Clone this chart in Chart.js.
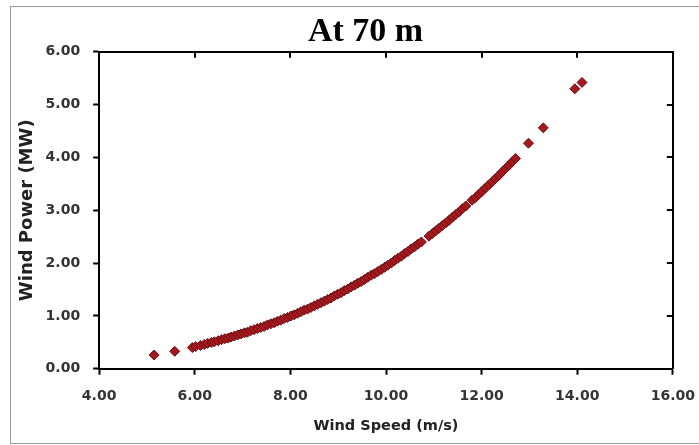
<!DOCTYPE html>
<html>
<head>
<meta charset="utf-8">
<script src="https://cdn.jsdelivr.net/npm/chart.js@4.4.1/dist/chart.umd.min.js"></script>
<style>
  html, body { margin: 0; padding: 0; background: #fff; }
  #kutu { position: relative; width: 699px; height: 445px; }
</style>
</head>
<body>
<div id="kutu"><canvas id="ruzgarChart" width="699" height="445"></canvas></div>
<script>
/* DATA */
var windSpeed = [5.15, 5.58, 5.95, 6.02,
  6.12, 6.20, 6.27, 6.35, 6.41, 6.49, 6.56, 6.63, 6.70, 6.76, 6.83, 6.90, 6.97,
  7.04, 7.10, 7.17, 7.24, 7.31, 7.38, 7.45, 7.52, 7.59, 7.66, 7.73, 7.80, 7.87, 7.94,
  8.01, 8.08, 8.15, 8.22, 8.29, 8.36, 8.43, 8.50, 8.57, 8.64, 8.71, 8.78, 8.85, 8.92, 8.99,
  9.06, 9.13, 9.20, 9.27, 9.34, 9.41, 9.48, 9.55, 9.62, 9.69, 9.76, 9.83, 9.90, 9.97,
  10.04, 10.11, 10.18, 10.25, 10.32, 10.39, 10.46, 10.53, 10.60, 10.67, 10.74,
  10.90, 10.97, 11.04, 11.11, 11.18, 11.25, 11.32, 11.39, 11.46, 11.53, 11.60, 11.67,
  11.80, 11.87, 11.94, 12.01, 12.08, 12.15, 12.22, 12.29, 12.36, 12.43, 12.50, 12.57, 12.64, 12.71,
  12.98, 13.29, 13.95, 14.10];
var windPower = [0.26, 0.33, 0.40, 0.42,
  0.44, 0.46, 0.48, 0.50, 0.51, 0.53, 0.55, 0.57, 0.58, 0.60, 0.62, 0.64, 0.66,
  0.68, 0.69, 0.72, 0.74, 0.76, 0.78, 0.80, 0.83, 0.85, 0.87, 0.90, 0.92, 0.95, 0.97,
  1.00, 1.02, 1.05, 1.08, 1.11, 1.13, 1.16, 1.19, 1.22, 1.25, 1.28, 1.31, 1.34, 1.38, 1.41,
  1.44, 1.48, 1.51, 1.55, 1.58, 1.62, 1.65, 1.69, 1.73, 1.77, 1.80, 1.84, 1.88, 1.92,
  1.96, 2.00, 2.05, 2.09, 2.13, 2.18, 2.22, 2.27, 2.31, 2.36, 2.40,
  2.51, 2.56, 2.61, 2.66, 2.71, 2.76, 2.81, 2.87, 2.92, 2.97, 3.03, 3.08,
  3.19, 3.24, 3.30, 3.36, 3.42, 3.48, 3.54, 3.60, 3.66, 3.73, 3.79, 3.85, 3.92, 3.98,
  4.27, 4.56, 5.30, 5.42];
var xTicks = [4, 6, 8, 10, 12, 14, 16];
var yTicks = [0, 1, 2, 3, 4, 5, 6];

var noktalar = [];
for (var i = 0; i < windSpeed.length; i++) {
  noktalar.push({x: windSpeed[i], y: windPower[i]});
}

/* DIS CERCEVE VE IC TIKLER */
var cercevePlugin = {
  id: 'cerceve',
  beforeDraw: function (chart) {
    var c = chart.ctx;
    c.save();
    c.strokeStyle = '#9a9a9a';
    c.lineWidth = 1;
    c.strokeRect(10.5, 6.5, 700, 437);
    c.restore();
  },
  afterDraw: function (chart) {
    var c = chart.ctx, a = chart.chartArea;
    var sx = chart.scales.x, sy = chart.scales.y;
    c.save();
    c.strokeStyle = '#000';
    c.lineWidth = 2;
    c.beginPath();
    sx.ticks.forEach(function (t) {
      var px = Math.round(sx.getPixelForValue(t.value));
      c.moveTo(px, a.top);
      c.lineTo(px, a.top + 6);
    });
    sy.ticks.forEach(function (t) {
      var py = Math.round(sy.getPixelForValue(t.value));
      c.moveTo(a.right, py);
      c.lineTo(a.right - 6, py);
    });
    c.stroke();
    c.restore();
  }
};

var ctx = document.getElementById("ruzgarChart");
var myChart = new Chart(ctx, {
  type: 'scatter',
  data: {
    datasets: [{
      label: 'Wind Power',
      data: noktalar,
      pointStyle: 'rectRot',
      pointRadius: 5,
      backgroundColor: '#a5191e',
      borderColor: '#6a1013',
      borderWidth: 1
    }]
  },
  options: {
    responsive: false,
    animation: false,
    layout: { padding: { left: 32, right: 0, top: 0, bottom: 10 } },
    plugins: {
      legend: { display: false },
      tooltip: { enabled: false },
      title: {
        display: true,
        text: 'At 70 m',
        color: '#000',
        font: { family: "'Liberation Serif', 'Times New Roman', serif", size: 34, weight: 'bold', lineHeight: 1.2 },
        padding: { top: 12, bottom: -1 }
      }
    },
    scales: {
      x: {
        type: 'linear',
        position: 'bottom',
        min: xTicks[0],
        max: xTicks[xTicks.length - 1],
        afterBuildTicks: function (s) { s.ticks = xTicks.map(function (v) { return {value: v}; }); },
        ticks: {
          padding: 4,
          color: '#333',
          font: { family: "'DejaVu Sans'", size: 14, weight: 'bold', lineHeight: 2.49 },
          callback: function (v) { return Number(v).toFixed(2); }
        },
        grid: { drawOnChartArea: false, tickLength: 6, tickWidth: 2, tickColor: '#000' },
        border: { color: '#000', width: 2 },
        title: {
          display: true,
          text: 'Wind Speed (m/s)',
          color: '#222',
          font: { family: "'DejaVu Sans'", size: 14.5, weight: 'bold' },
          padding: { top: 0, bottom: 0 }
        }
      },
      y: {
        type: 'linear',
        position: 'left',
        min: yTicks[0],
        max: yTicks[yTicks.length - 1],
        afterBuildTicks: function (s) { s.ticks = yTicks.map(function (v) { return {value: v}; }); },
        ticks: {
          padding: 13,
          color: '#333',
          font: { family: "'DejaVu Sans'", size: 14, weight: 'bold' },
          callback: function (v) { return Number(v).toFixed(2); }
        },
        grid: { drawOnChartArea: false, tickLength: 6, tickWidth: 2, tickColor: '#000' },
        border: { color: '#000', width: 2 },
        title: {
          display: true,
          text: 'Wind Power (MW)',
          color: '#222',
          font: { family: "'DejaVu Sans'", size: 18, weight: 'bold' },
          padding: { top: -15, bottom: -6 }
        }
      },
      x2: {
        type: 'linear',
        position: 'top',
        min: xTicks[0],
        max: xTicks[xTicks.length - 1],
        ticks: { display: false },
        grid: { drawOnChartArea: false, drawTicks: false },
        border: { color: '#000', width: 2 }
      },
      y2: {
        type: 'linear',
        position: 'right',
        min: yTicks[0],
        max: yTicks[yTicks.length - 1],
        ticks: { display: false },
        grid: { drawOnChartArea: false, drawTicks: false },
        border: { color: '#000', width: 2 }
      }
    }
  },
  plugins: [cercevePlugin]
});
</script>
</body>
</html>
